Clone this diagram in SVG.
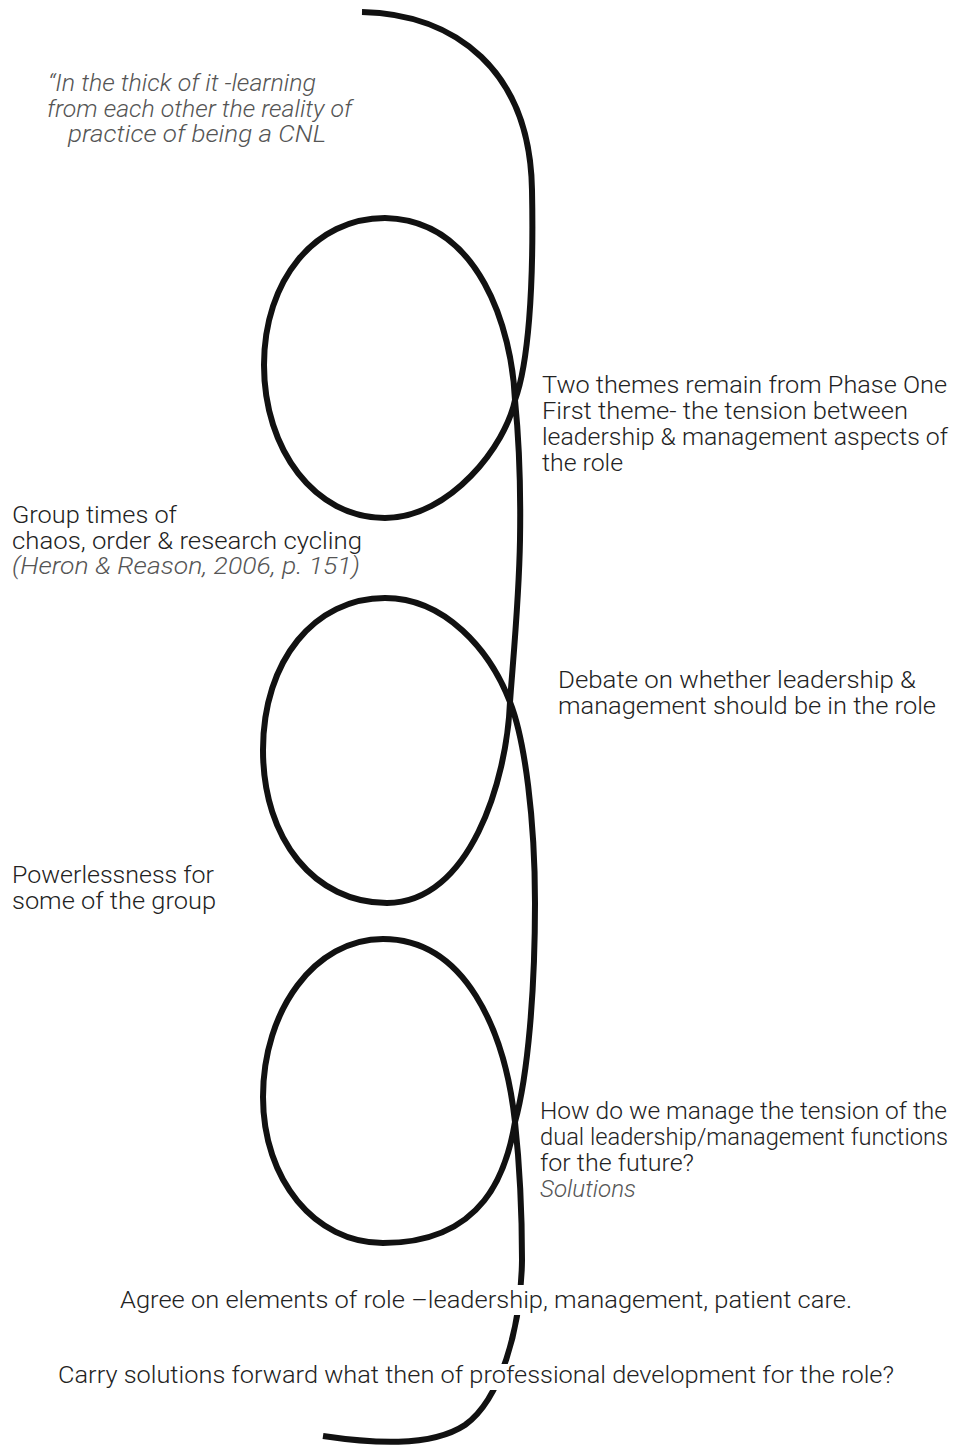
<svg xmlns="http://www.w3.org/2000/svg" width="956" height="1445" viewBox="0 0 956 1445">
  <style>
    .txt { font-family: "Roboto", "Liberation Sans", Arial, sans-serif; font-weight: 300; font-size: 24px; fill: #222; }
    .it { font-style: italic; fill: #555; }
    .thread { fill: none; stroke: #111; stroke-width: 6; stroke-linecap: butt; stroke-linejoin: round; }
    .knock { fill: #fff; }
  </style>
  <rect width="956" height="1445" fill="#fff"/>

  <!-- the looping thread -->
  <g id="connectors">
    <path class="thread" d="M362,12 C455,14 530,70 532,190 C534,290 528,365 515,400 C506,445 450,518 385,518 C315,518 264,450 264,365 C264,280 315,218 385,218 C480,220 512,330 515,400 C518,430 521,480 520,540 C519,600 513,660 510,702 C507,780 470,903 387,903 C315,903 263,840 263,750 C263,660 315,598 385,598 C445,598 490,650 510,702 C525,740 535,820 535,903 C535,990 528,1075 515,1122 C507,1170 485,1243 383,1243 C315,1243 263,1180 263,1097 C263,1010 315,939 383,939 C465,939 505,1030 515,1122 C518,1150 522,1200 522,1260 C521,1330 500,1400 465,1425 C430,1448 370,1443 323,1436"/>
  </g>

  <g id="quote">
    <text class="txt it" x="48" y="91" textLength="268" lengthAdjust="spacingAndGlyphs">“In the thick of it -learning</text>
    <text class="txt it" x="47" y="117" textLength="305" lengthAdjust="spacingAndGlyphs">from each other the reality of</text>
    <text class="txt it" x="68" y="142" textLength="258" lengthAdjust="spacingAndGlyphs">practice of being a CNL</text>
  </g>

  <g id="themes">
    <text class="txt" x="542" y="393" textLength="405" lengthAdjust="spacingAndGlyphs">Two themes remain from Phase One</text>
    <text class="txt" x="542" y="419" textLength="366" lengthAdjust="spacingAndGlyphs">First theme- the tension between</text>
    <text class="txt" x="542" y="445" textLength="406" lengthAdjust="spacingAndGlyphs">leadership &amp; management aspects of</text>
    <text class="txt" x="542" y="471" textLength="81" lengthAdjust="spacingAndGlyphs">the role</text>
  </g>

  <g id="cycling">
    <text class="txt" x="12" y="523" textLength="165" lengthAdjust="spacingAndGlyphs">Group times of</text>
    <text class="txt" x="12" y="549" textLength="350" lengthAdjust="spacingAndGlyphs">chaos, order &amp; research cycling</text>
    <text class="txt it" x="12" y="574" textLength="348" lengthAdjust="spacingAndGlyphs">(Heron &amp; Reason, 2006, p. 151)</text>
  </g>

  <g id="debate">
    <text class="txt" x="558" y="688" textLength="358" lengthAdjust="spacingAndGlyphs">Debate on whether leadership &amp;</text>
    <text class="txt" x="558" y="714" textLength="378" lengthAdjust="spacingAndGlyphs">management should be in the role</text>
  </g>

  <g id="powerlessness">
    <text class="txt" x="12" y="883" textLength="202" lengthAdjust="spacingAndGlyphs">Powerlessness for</text>
    <text class="txt" x="12" y="909" textLength="204" lengthAdjust="spacingAndGlyphs">some of the group</text>
  </g>

  <g id="tension">
    <text class="txt" x="540" y="1119" textLength="407" lengthAdjust="spacingAndGlyphs">How do we manage the tension of the</text>
    <text class="txt" x="540" y="1145" textLength="408" lengthAdjust="spacingAndGlyphs">dual leadership/management functions</text>
    <text class="txt" x="540" y="1171" textLength="154" lengthAdjust="spacingAndGlyphs">for the future?</text>
    <text class="txt it" x="540" y="1197" textLength="96" lengthAdjust="spacingAndGlyphs">Solutions</text>
  </g>

  <g id="agree">
    <rect class="knock" x="118" y="1285" width="736" height="30"/>
    <text class="txt" x="120" y="1308" textLength="732" lengthAdjust="spacingAndGlyphs">Agree on elements of role –leadership, management, patient care.</text>
  </g>

  <g id="carry">
    <rect class="knock" x="56" y="1364" width="840" height="26"/>
    <text class="txt" x="58" y="1383" textLength="836" lengthAdjust="spacingAndGlyphs">Carry solutions forward what then of professional development for the role?</text>
  </g>
</svg>
